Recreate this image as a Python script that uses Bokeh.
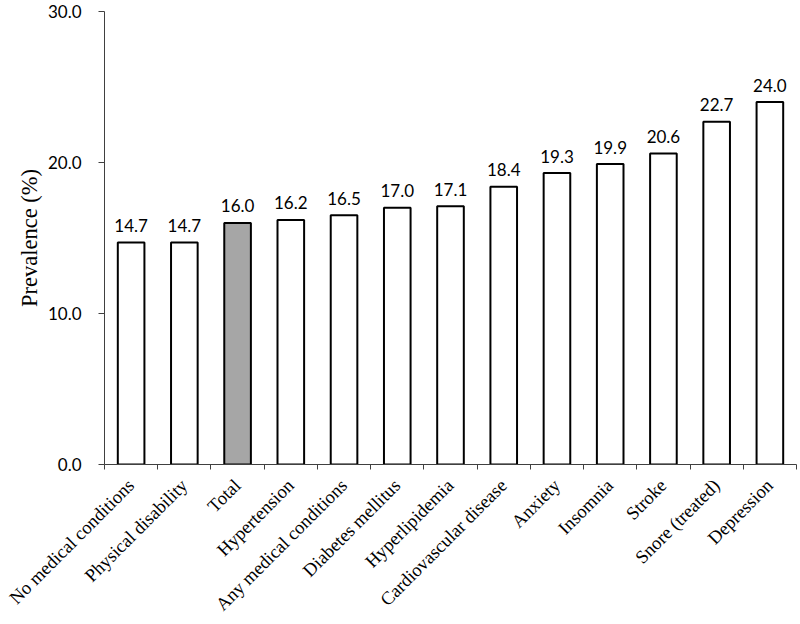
from bokeh.plotting import figure
from bokeh.models import FixedTicker, NumeralTickFormatter, Range1d, ColumnDataSource
from bokeh.embed import file_html
from bokeh.resources import INLINE
from bokeh.core.properties import value
import math

categories = ["No medical conditions", "Physical disability", "Total", "Hypertension",
              "Any medical conditions", "Diabetes mellitus", "Hyperlipidemia",
              "Cardiovascular disease", "Anxiety", "Insomnia", "Stroke",
              "Snore (treated)", "Depression"]
prevalence = [14.7, 14.7, 16.0, 16.2, 16.5, 17.0, 17.1, 18.4, 19.3, 19.9, 20.6, 22.7, 24.0]
highlight = "Total"
y_ticks = [0, 10, 20, 30]
y_max = 30

n = len(categories)
centers = [i + 0.5 for i in range(n)]
bounds = [i for i in range(n + 1)]
fills = ["#a6a6a6" if c == highlight else "white" for c in categories]
labels = ["%.1f" % v for v in prevalence]

src = ColumnDataSource(dict(x=centers, top=prevalence, fill=fills, label=labels))

p = figure(width=798, height=624, output_backend="svg", toolbar_location=None,
           x_range=Range1d(0, n), y_range=Range1d(0, y_max),
           min_border_left=104, min_border_right=2, min_border_top=11, min_border_bottom=150)
p.outline_line_color = None
p.xgrid.visible = False
p.ygrid.visible = False

p.vbar(x="x", top="top", bottom=0, width=0.5, source=src, fill_color="fill",
       line_color="black", line_width=2)
p.text(x="x", y="top", text="label", source=src, text_align="center",
       text_baseline="alphabetic", y_offset=-17, text_font=value("Lato"),
       text_font_size="17px", text_color="black")

# x axis: ticks between categories, names at the centres
xa = p.xaxis[0]
xa.ticker = FixedTicker(ticks=centers, minor_ticks=bounds)
xa.major_label_overrides = {c: name for c, name in zip(centers, categories)}
xa.major_tick_line_color = None
xa.major_tick_out = 6
xa.minor_tick_line_color = "#404040"
xa.minor_tick_out = 5
xa.minor_tick_in = 0
xa.axis_line_color = "#404040"
xa.major_label_orientation = math.pi / 4
xa.major_label_text_font = "Liberation Serif"
xa.major_label_text_font_size = "18.5px"
xa.major_label_text_color = "black"
xa.major_label_standoff = 12

# y axis
ya = p.yaxis[0]
ya.ticker = FixedTicker(ticks=y_ticks)
ya.formatter = NumeralTickFormatter(format="0.0")
ya.minor_tick_line_color = None
ya.major_tick_out = 6
ya.major_tick_in = 0
ya.major_tick_line_color = "#404040"
ya.axis_line_color = "#404040"
ya.major_label_standoff = 17
ya.major_label_text_font = "Lato"
ya.major_label_text_font_size = "17px"
ya.major_label_text_color = "black"
ya.axis_label = "Prevalence (%)"
ya.axis_label_text_font = "Liberation Serif"
ya.axis_label_text_font_size = "22.5px"
ya.axis_label_text_font_style = "normal"
ya.axis_label_text_color = "black"
ya.axis_label_standoff = 3

open("out.html", "w").write(file_html(p, INLINE))
